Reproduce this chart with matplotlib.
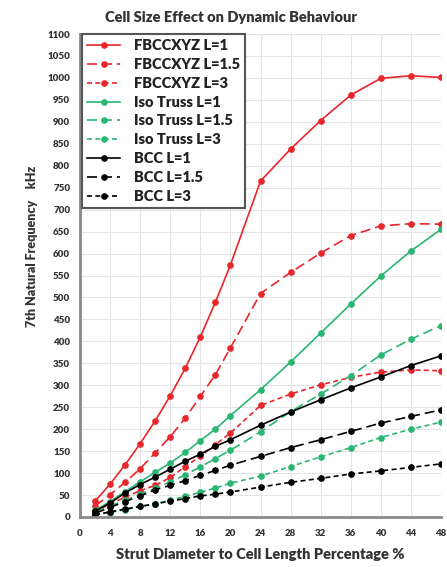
import matplotlib
matplotlib.use("Agg")
import matplotlib.pyplot as plt

x = [2, 4, 6, 8, 10, 12, 14, 16, 18, 20, 24, 28, 32, 36, 40, 44, 48]

fbcc_l1 = [36, 75, 119, 167, 219, 276, 339, 410, 489, 574, 765, 838, 903, 961, 999, 1005, 1001]
fbcc_l15 = [25, 51, 79, 110, 146, 183, 225, 275, 324, 385, 509, 557, 601, 641, 663, 668, 667]
fbcc_l3 = [12, 30, 45, 60, 72, 90, 115, 138, 165, 191, 254, 280, 301, 318, 330, 335, 333]
iso_l1 = [15, 35, 58, 80, 102, 123, 147, 174, 200, 231, 290, 353, 419, 485, 549, 606, 655]
iso_l15 = [10, 25, 38, 52, 65, 80, 96, 114, 133, 152, 194, 240, 280, 322, 369, 405, 436]
iso_l3 = [5, 10, 17, 24, 30, 38, 47, 56, 66, 77, 93, 115, 137, 158, 181, 200, 216]
bcc_l1 = [13, 32, 55, 74, 91, 109, 127, 143, 161, 176, 209, 239, 267, 294, 319, 345, 367]
bcc_l15 = [8, 22, 35, 48, 62, 72, 83, 95, 106, 118, 138, 158, 176, 195, 214, 229, 244]
bcc_l3 = [5, 12, 18, 24, 30, 36, 42, 48, 52, 57, 68, 79, 88, 98, 105, 113, 121]

labels = ["FBCCXYZ L=1", "FBCCXYZ L=1.5", "FBCCXYZ L=3",
          "Iso Truss L=1", "Iso Truss L=1.5", "Iso Truss L=3",
          "BCC L=1", "BCC L=1.5", "BCC L=3"]
series = [fbcc_l1, fbcc_l15, fbcc_l3, iso_l1, iso_l15, iso_l3, bcc_l1, bcc_l15, bcc_l3]

RED = "#e8262b"
GREEN = "#2ab673"
BLACK = "#000000"
colors = [RED, RED, RED, GREEN, GREEN, GREEN, BLACK, BLACK, BLACK]
styles = ["-", (0, (6, 3)), (0, (3, 2))] * 3

plt.rcParams['font.family'] = ['Lato', 'DejaVu Sans']

fig = plt.figure(figsize=(4.47, 5.67), dpi=100)
ax = fig.add_axes([80 / 447, 1 - 517 / 567, (441 - 80) / 447, (517 - 34) / 567])

for y, lab, c, ls in zip(series, labels, colors, styles):
    ax.plot(x, y, color=c, linestyle=ls, linewidth=1.2, marker='o', markersize=3.8,
            label=lab)

ax.set_xlim(0, 48)
ax.set_ylim(0, 1100)
ax.set_xticks(range(0, 49, 4))
ax.set_yticks(range(0, 1101, 50))
ax.grid(True, color="#e4e4e4", linewidth=0.8)
ax.set_axisbelow(True)

for s in ["top", "right"]:
    ax.spines[s].set_visible(False)
for s in ["left", "bottom"]:
    ax.spines[s].set_color("#8a8a8a")
    ax.spines[s].set_linewidth(2)

ax.tick_params(axis='both', length=0, labelsize=7, labelcolor="#333333")
ax.tick_params(axis='x', pad=9)
ax.tick_params(axis='y', pad=7)
for t in ax.get_xticklabels() + ax.get_yticklabels():
    t.set_fontweight('heavy')

ax.set_xlabel("Strut Diameter to Cell Length Percentage %", fontsize=10.5, fontweight='heavy',
              color="#333333", labelpad=7)
ax.set_ylabel("7th Natural Frequency    kHz", fontsize=9, fontweight='heavy',
              color="#333333")
ax.yaxis.set_label_coords(-0.116, (517 - 246) / 483)
fig.text(231 / 447, 1 - 17 / 567, "Cell Size Effect on Dynamic Behaviour",
         ha='center', va='center', fontsize=10.5, fontweight='heavy', color="#333333")

leg = ax.legend(loc='upper left', bbox_to_anchor=(0.005, 1.0), frameon=True,
                fancybox=False, handlelength=2.3, labelspacing=0.40, borderpad=0.35,
                handletextpad=0.9, borderaxespad=0.0,
                prop={'weight': 'heavy', 'size': 10.5})
leg.get_frame().set_edgecolor("#555555")
leg.get_frame().set_linewidth(1.5)
leg.get_frame().set_alpha(1)
for t in leg.get_texts():
    t.set_color("#222222")

fig.savefig("out.png", dpi=100)
